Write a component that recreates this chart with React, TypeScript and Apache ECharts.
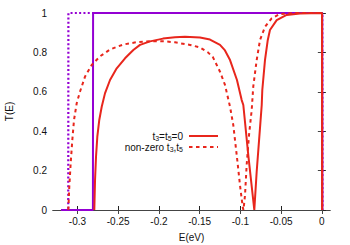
import React, { useEffect, useRef } from "react";
import * as echarts from "echarts";

const xTicks = [-0.3, -0.25, -0.2, -0.15, -0.1, -0.05, 0];
const yTicks = [0, 0.2, 0.4, 0.6, 0.8, 1];
const legendLabels = ["{n|t}{s|3}{n|=t}{s|5}{n|=0}", "{n|non-zero t}{s|3}{n|,t}{s|5}"];

const purpleSolid: [number, number][] = [
  [-0.3202, 0], [-0.2810, 0], [-0.2808, 1], [0.0005, 1], [0.0007, 0],
];
const purpleDashed: [number, number][] = [
  [-0.3202, 0], [-0.3113, 0], [-0.3111, 1], [0.0005, 1], [0.0007, 0],
];
const redSolid: [number, number][] = [
  [-0.2793, 0], [-0.2784, 0.152], [-0.2772, 0.27], [-0.2756, 0.372], [-0.2732, 0.457],
  [-0.2702, 0.524], [-0.2662, 0.592], [-0.2600, 0.66], [-0.2518, 0.719], [-0.2416, 0.77],
  [-0.2314, 0.812], [-0.2232, 0.838], [-0.2109, 0.856], [-0.1950, 0.870], [-0.1803, 0.877],
  [-0.1680, 0.880], [-0.1496, 0.876], [-0.1373, 0.865], [-0.1250, 0.838], [-0.1189, 0.81],
  [-0.1127, 0.761], [-0.1042, 0.66], [-0.0984, 0.558], [-0.0964, 0.533], [-0.0903, 0.279],
  [-0.0829, 0], [-0.0800, 0.194], [-0.0755, 0.44], [-0.0738, 0.533], [-0.0731, 0.609],
  [-0.0698, 0.761], [-0.0665, 0.86], [-0.0637, 0.914], [-0.0554, 0.964], [-0.0432, 0.99],
  [-0.0268, 0.998], [0.0002, 1], [0.0003, 0],
];
const redDashed: [number, number][] = [
  [-0.3112, 0], [-0.3100, 0.118], [-0.3083, 0.237], [-0.3063, 0.355], [-0.3042, 0.457],
  [-0.3009, 0.542], [-0.2969, 0.60], [-0.2907, 0.677], [-0.2825, 0.736], [-0.2723, 0.78],
  [-0.2600, 0.815], [-0.2437, 0.840], [-0.2273, 0.852], [-0.2109, 0.857], [-0.1925, 0.856],
  [-0.1803, 0.851], [-0.1618, 0.838], [-0.1496, 0.825], [-0.1398, 0.800], [-0.1336, 0.775],
  [-0.1250, 0.702], [-0.1189, 0.635], [-0.1127, 0.524], [-0.1087, 0.431], [-0.1045, 0.279],
  [-0.1005, 0.127], [-0.0972, 0.017], [-0.0962, 0], [-0.0943, 0.076], [-0.0923, 0.228],
  [-0.0894, 0.38], [-0.0861, 0.508], [-0.0842, 0.626], [-0.0800, 0.761], [-0.0759, 0.863],
  [-0.0698, 0.93], [-0.0616, 0.973], [-0.0514, 0.995], [-0.0330, 1], [0.0002, 1],
  [0.0003, 0],
];

const RED = "#e8261c";
const PURPLE = "#9400d3";
const FONT = "Liberation Sans";
const TXT = "#111";

export default function App() {
  const ref = useRef<HTMLDivElement>(null);
  useEffect(() => {
    if (!ref.current) return;
    const chart = echarts.init(ref.current, undefined, { renderer: "svg" });
    const axisLine = { lineStyle: { color: "#222", width: 1 } };
    const fmtX = (v: number) => (Math.abs(v) < 1e-9 ? "0" : String(+v.toFixed(2)));
    const rich = {
      n: { fontFamily: FONT, fontSize: 10, fill: TXT, lineHeight: 11 },
      s: { fontFamily: FONT, fontSize: 7, fill: TXT, lineHeight: 11, padding: [5, 0, 0, 0] },
    };
    const legendRow = (i: number, y: number, dash: number[] | null) => [
      {
        type: "text",
        style: {
          x: 183,
          y,
          text: legendLabels[i],
          align: "right",
          verticalAlign: "middle",
          fontFamily: FONT,
          fontSize: 10,
          fill: TXT,
          rich,
        },
      },
      {
        type: "line",
        shape: { x1: 189, y1: y, x2: 218, y2: y },
        style: { stroke: RED, lineWidth: 2, lineDash: dash || undefined },
      },
    ];
    chart.setOption({
      animation: false,
      backgroundColor: "#fff",
      grid: { left: 53, right: 20, top: 13, bottom: 35, containLabel: false, outerBoundsMode: "none" },
      graphic: [...legendRow(0, 136, null), ...legendRow(1, 147, [3.5, 3.5])],
      xAxis: [
        {
          type: "value",
          min: -0.33,
          max: 0.01,
          position: "bottom",
          axisLine,
          splitLine: { show: false },
          axisTick: { inside: true, length: 4, customValues: xTicks, lineStyle: { color: "#222" } },
          axisLabel: {
            customValues: xTicks,
            formatter: fmtX,
            fontFamily: FONT,
            fontSize: 10,
            color: TXT,
            margin: 6,
          },
          name: "E(eV)",
          nameLocation: "middle",
          nameGap: 22,
          nameTextStyle: { fontFamily: FONT, fontSize: 10, color: TXT },
        },
        {
          type: "value",
          min: -0.33,
          max: 0.01,
          position: "top",
          axisLine: { lineStyle: { color: "#444", width: 1 } },
          splitLine: { show: false },
          axisTick: { inside: true, length: 4, customValues: xTicks, lineStyle: { color: "#444" } },
          axisLabel: { show: false },
        },
      ],
      yAxis: [
        {
          type: "value",
          min: 0,
          max: 1,
          interval: 0.2,
          axisLine: { show: true, ...axisLine },
          splitLine: { show: false },
          axisTick: { show: true, inside: true, length: 4, lineStyle: { color: "#222" } },
          axisLabel: {
            customValues: yTicks,
            fontFamily: FONT,
            fontSize: 10,
            color: TXT,
            margin: 6,
          },
          name: "T(E)",
          nameLocation: "middle",
          nameGap: 39,
          nameRotate: 90,
          nameTextStyle: { fontFamily: FONT, fontSize: 10, color: TXT },
        },
        {
          type: "value",
          min: 0,
          max: 1,
          interval: 0.2,
          position: "right",
          axisLine: { show: true, lineStyle: { color: "#444", width: 1 } },
          splitLine: { show: false },
          axisTick: { show: true, inside: true, length: 4, lineStyle: { color: "#444" } },
          axisLabel: { show: false },
        },
      ],
      series: [
        {
          name: "purple solid",
          type: "line",
          data: purpleSolid,
          symbol: "none",
          clip: false,
          lineStyle: { color: PURPLE, width: 2 },
        },
        {
          name: "purple dashed",
          type: "line",
          data: purpleDashed,
          symbol: "none",
          clip: false,
          lineStyle: { color: PURPLE, width: 2.2, type: [2, 2.3] },
        },
        {
          name: "t3=t5=0",
          type: "line",
          data: redSolid,
          symbol: "none",
          clip: false,
          lineStyle: { color: RED, width: 2 },
        },
        {
          name: "non-zero t3,t5",
          type: "line",
          data: redDashed,
          symbol: "none",
          clip: false,
          lineStyle: { color: RED, width: 2, type: [3.5, 3.5] },
        },
      ],
    });
    return () => chart.dispose();
  }, []);
  return <div ref={ref} style={{ width: 350, height: 245, position: "absolute", left: 0, top: 0 }} />;
}
